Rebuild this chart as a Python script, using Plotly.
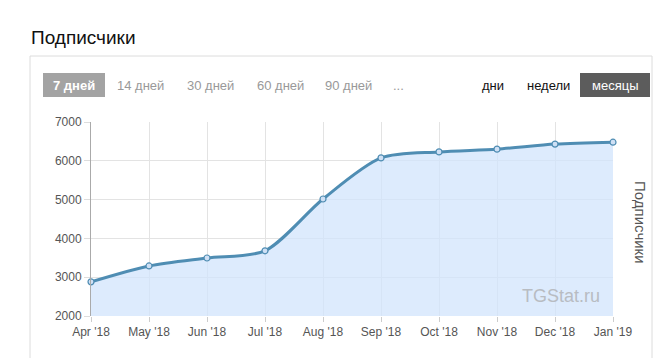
import plotly.graph_objects as go

months = ["Apr '18", "May '18", "Jun '18", "Jul '18", "Aug '18", "Sep '18",
          "Oct '18", "Nov '18", "Dec '18", "Jan '19"]
subscribers = [2880, 3290, 3495, 3680, 5015, 6075, 6230, 6300, 6430, 6480]
y_ticks = [2000, 3000, 4000, 5000, 6000, 7000]
period_buttons = ["7 дней", "14 дней", "30 дней", "60 дней", "90 дней", "..."]
scale_buttons = ["дни", "недели", "месяцы"]

W, H = 664, 358
def px(x): return x / W
def py(y): return 1 - y / H

fig = go.Figure()
fig.add_trace(go.Scatter(
    x=list(range(len(months))), y=subscribers, mode="lines+markers",
    line=dict(color="#4f8db3", width=3, shape="spline", smoothing=0.8),
    marker=dict(size=6, color="#cfe0f5", line=dict(color="#4f8db3", width=1.2)),
    fill="tozeroy", fillcolor="rgba(210,228,252,0.75)",
    hoverinfo="skip", showlegend=False, cliponaxis=False,
))

shapes = [
    dict(type="rect", xref="paper", yref="paper", x0=px(30), x1=px(652), y0=py(370), y1=py(56),
         line=dict(color="#dcdcdc", width=1), fillcolor="rgba(0,0,0,0)", layer="below"),
    dict(type="rect", xref="paper", yref="paper", x0=px(43), x1=px(105), y0=py(97), y1=py(73),
         line=dict(width=0), fillcolor="#a3a3a3", layer="below"),
    dict(type="rect", xref="paper", yref="paper", x0=px(580), x1=px(650), y0=py(97), y1=py(73),
         line=dict(width=0), fillcolor="#5c5c5c", layer="below"),
]

annotations = [
    dict(text="Подписчики", x=px(29), y=py(37), xref="paper", yref="paper",
         xanchor="left", yanchor="middle", showarrow=False,
         font=dict(size=19, color="#111", family="Arial, Liberation Sans")),
    dict(text="TGStat.ru", x=px(602), y=py(296), xref="paper", yref="paper",
         xanchor="right", yanchor="middle", showarrow=False,
         font=dict(size=18, color="#b8bcc2", family="Arial, Liberation Sans")),
    dict(text="Подписчики", x=px(640), y=py(222), xref="paper", yref="paper",
         xanchor="center", yanchor="middle", showarrow=False, textangle=90,
         font=dict(size=15, color="#555", family="Arial, Liberation Sans")),
]

pb_x = [74, 140, 210, 280, 348, 398]
for i, (t, xc) in enumerate(zip(period_buttons, pb_x)):
    annotations.append(dict(
        text=("<b>" + t + "</b>") if i == 0 else t, x=px(xc), y=py(85),
        xref="paper", yref="paper", xanchor="center", yanchor="middle", showarrow=False,
        font=dict(size=13, color="#fff" if i == 0 else "#999", family="Arial, Liberation Sans")))
sb_x = [493, 548, 615]
for i, (t, xc) in enumerate(zip(scale_buttons, sb_x)):
    annotations.append(dict(
        text=t, x=px(xc), y=py(85), xref="paper", yref="paper",
        xanchor="center", yanchor="middle", showarrow=False,
        font=dict(size=13, color="#fff" if i == 2 else "#111", family="Arial, Liberation Sans")))

fig.update_layout(
    width=W, height=H, margin=dict(l=0, r=0, t=0, b=0, pad=0, autoexpand=False),
    paper_bgcolor="white", plot_bgcolor="white",
    shapes=shapes, annotations=annotations,
    font=dict(family="Arial, Liberation Sans", color="#555"),
    xaxis=dict(domain=[px(91), px(613)], range=[0, len(months) - 1], automargin=False,
               tickvals=list(range(len(months))), ticktext=months,
               showgrid=True, gridcolor="#e3e3e3", gridwidth=1,
               zeroline=False, showline=False, ticks="outside", ticklen=5,
               tickcolor="#ccc", tickfont=dict(size=12, color="#555")),
    yaxis=dict(domain=[py(316), py(122)], range=[2000, 7000], tickvals=y_ticks, automargin=False,
               showgrid=True, gridcolor="#e3e3e3", gridwidth=1,
               zeroline=False, showline=True, linecolor="#aaa", linewidth=1,
               ticks="outside", ticklen=6, tickcolor="#ddd",
               tickfont=dict(size=12, color="#555")),
)

fig.write_html("out.html", config={"displayModeBar": False},
               post_script="document.body.style.margin='0';document.body.style.overflow='hidden';")
